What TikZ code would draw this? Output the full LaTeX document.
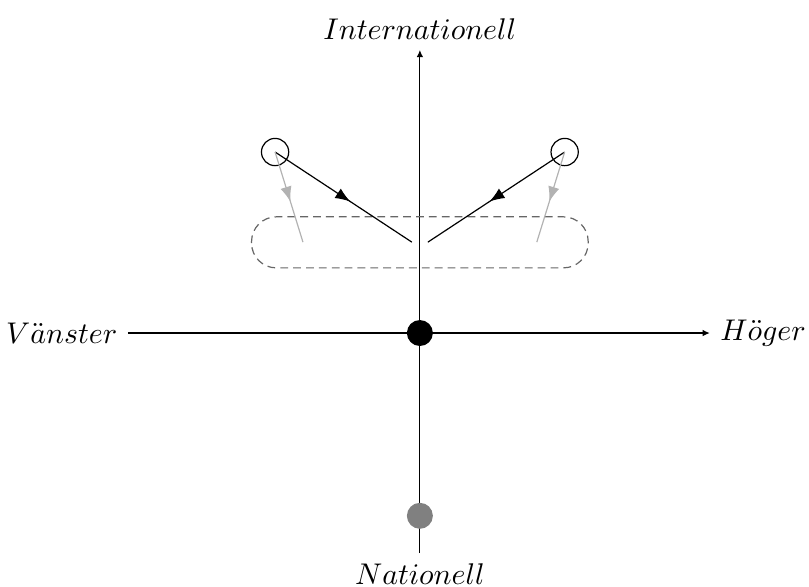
\documentclass[tikz,border=0pt]{standalone}
\usepackage{amsmath,amssymb}
\usepackage{tikz}
\usetikzlibrary{arrows.meta,decorations.markings}
\usepackage{xcolor}

\begin{document}
\begin{tikzpicture}[
  x=0.425cm, y=0.425cm,
  dot/.style={circle, fill=black, inner sep=0pt, minimum size=3.05mm},
  ring/.style={circle, draw, inner sep=0pt, minimum size=3.2mm},
  axlabel/.style={font=\normalsize},
  axis/.style={-{Latex[length=2.4pt, width=2.2pt]}},
  midarrow/.style={postaction={decorate}, decoration={markings,
    mark=at position 0.55 with {\arrow{Latex[length=5pt, width=3.8pt]}}}}
]
  \useasboundingbox (-11.60,-6.99) rectangle (10.75,9.20);

  % Axis ends
  \coordinate (west) at (-8.07,0);
  \coordinate (east) at (8.01,0);
  \coordinate (north) at (0,7.82);
  \coordinate (south) at (0,-6.08);

  % Labels
  \node[axlabel, anchor=east] (vanster) at (west) {$V\ddot{a}nster$};
  \node[axlabel, anchor=west] (hoger) at (east) {$H\ddot{o}ger$};
  \node[axlabel, anchor=south] (intl) at (north) {$Internationell$};
  \node[axlabel, anchor=north] (natl) at (south) {$Nationell$};

  % Axes
  \draw[axis] (west) -- (east);
  \draw[axis] (south) -- (north);

  % Zone
  \draw[dash pattern=on 2.6pt off 1.7pt, black!60, rounded corners=0.29cm]
    (-4.65,1.80) rectangle (4.65,3.21);

  % Points
  \node[dot] (origo) at (0,0) {};
  \node[dot, fill=gray] (nat) at (0,-5.05) {};
  \node[ring] (left) at (-4.0,5.0) {};
  \node[ring] (right) at (4.0,5.0) {};

  \coordinate (lin) at (-0.22,2.51);
  \coordinate (rin) at (0.22,2.51);
  \coordinate (lout) at (-3.23,2.51);
  \coordinate (rout) at (3.23,2.51);

  % Moves
  \draw[midarrow] (left.center) -- (lin);
  \draw[midarrow] (right.center) -- (rin);
  \draw[midarrow, gray!60] (left.center) -- (lout);
  \draw[midarrow, gray!60] (right.center) -- (rout);
\end{tikzpicture}
\end{document}
